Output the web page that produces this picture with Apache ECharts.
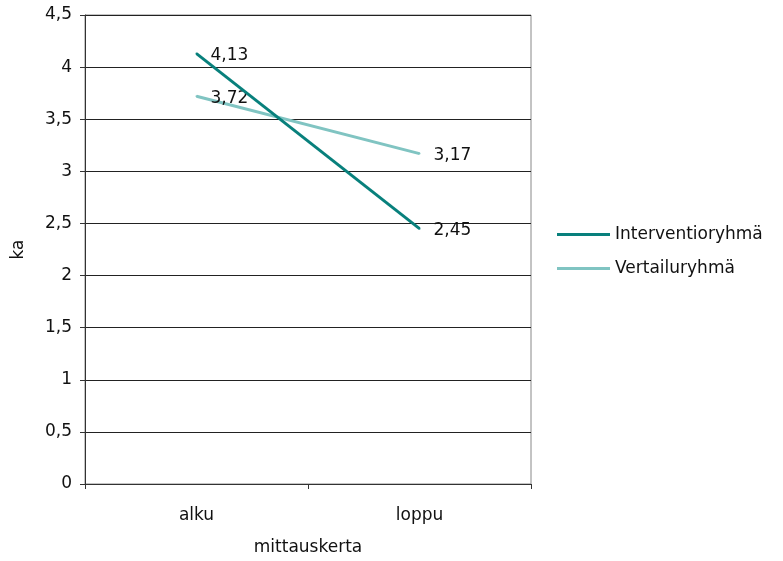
<!DOCTYPE html>
<html>
<head>
<meta charset="utf-8">
<script src="https://cdn.jsdelivr.net/npm/echarts@6/dist/echarts.min.js"></script>
<style>
  html, body { margin: 0; padding: 0; background: #fff; }
  #chart { width: 783px; height: 561px; }
</style>
</head>
<body>
<div id="chart"></div>
<script>
// Datos del gráfico
const categories = ["alku", "loppu"];
const interventio = [4.13, 2.45];
const vertailu = [3.72, 3.17];
const seriesNames = ["Interventioryhmä", "Vertailuryhmä"];

const FONT = "DejaVu Sans";
const FS = 17;
const fmt = (v) => String(v).replace(".", ",");

const chart = echarts.init(document.getElementById("chart"));

// Etiquetas de valor a la derecha de cada punto
const labelStyle = {
  show: true,
  position: "right",
  distance: 13,
  offset: [0, 2],
  color: "#111",
  fontFamily: FONT,
  fontSize: FS,
  formatter: (p) => fmt(p.value),
};

chart.setOption({
  animation: false,
  textStyle: { fontFamily: FONT },
  grid: {
    left: 85, right: 252, top: 15, bottom: 77,
    outerBoundsMode: "none",
    show: true, borderColor: "#888", borderWidth: 1,
  },
  legend: {
    orient: "vertical",
    left: 552,
    top: 221,
    itemWidth: 53,
    itemHeight: 3,
    itemGap: 17,
    icon: "rect",
    textStyle: { fontFamily: FONT, fontSize: FS, color: "#111" },
    data: seriesNames,
  },
  xAxis: {
    type: "category",
    data: categories,
    boundaryGap: true,
    name: "mittauskerta",
    nameLocation: "middle",
    nameGap: 55,
    nameTextStyle: { fontFamily: FONT, fontSize: FS, color: "#111" },
    axisLine: { lineStyle: { color: "#333", width: 1 } },
    axisTick: { show: true, length: 5, lineStyle: { color: "#333" } },
    axisLabel: { fontFamily: FONT, fontSize: FS, color: "#111", margin: 23 },
  },
  yAxis: {
    type: "value",
    min: 0,
    max: 4.5,
    interval: 0.5,
    name: "ka",
    nameLocation: "middle",
    nameGap: 58,
    nameRotate: 90,
    nameTextStyle: { fontFamily: FONT, fontSize: FS, color: "#111" },
    axisLine: { show: true, lineStyle: { color: "#333", width: 1 } },
    axisTick: { show: true, length: 5, lineStyle: { color: "#333" } },
    axisLabel: { fontFamily: FONT, fontSize: FS, color: "#111", margin: 13, formatter: (v) => fmt(v) },
    splitLine: { show: true, lineStyle: { color: "#222", width: 1 } },
  },
  series: [
    {
      name: seriesNames[0],
      type: "line",
      data: interventio,
      symbol: "circle",
      symbolSize: 2,
      showSymbol: true,
      lineStyle: { color: "#08807c", width: 3 },
      itemStyle: { color: "#08807c" },
      label: labelStyle,
      z: 3,
    },
    {
      name: seriesNames[1],
      type: "line",
      data: vertailu,
      symbol: "circle",
      symbolSize: 2,
      showSymbol: true,
      lineStyle: { color: "#80c4c2", width: 3 },
      itemStyle: { color: "#80c4c2" },
      label: labelStyle,
      z: 2,
    },
  ],
});
</script>
</body>
</html>
